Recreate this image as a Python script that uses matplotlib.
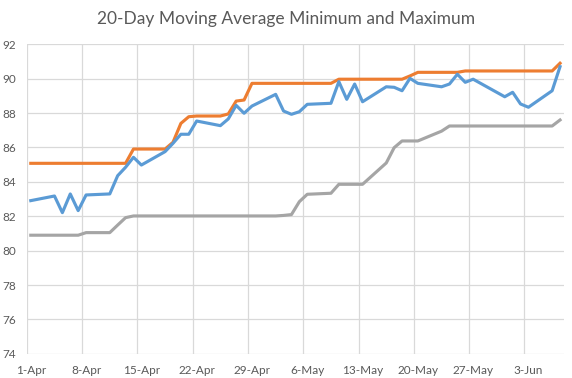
import numpy as np
import pandas as pd
import matplotlib
matplotlib.use('Agg')
import matplotlib.pyplot as plt

# trading days (2016)
dates = ['2016-04-01', '2016-04-04', '2016-04-05', '2016-04-06', '2016-04-07', '2016-04-08',
         '2016-04-11', '2016-04-12', '2016-04-13', '2016-04-14', '2016-04-15',
         '2016-04-18', '2016-04-19', '2016-04-20', '2016-04-21', '2016-04-22',
         '2016-04-25', '2016-04-26', '2016-04-27', '2016-04-28', '2016-04-29',
         '2016-05-02', '2016-05-03', '2016-05-04', '2016-05-05', '2016-05-06',
         '2016-05-09', '2016-05-10', '2016-05-11', '2016-05-12', '2016-05-13',
         '2016-05-16', '2016-05-17', '2016-05-18', '2016-05-19', '2016-05-20',
         '2016-05-23', '2016-05-24', '2016-05-25', '2016-05-26', '2016-05-27',
         '2016-05-31', '2016-06-01', '2016-06-02', '2016-06-03',
         '2016-06-06', '2016-06-07']

precio = [82.91, 83.18, 82.21, 83.30, 82.33, 83.24,
          83.30, 84.36, 84.85, 85.43, 84.98,
          85.76, 86.24, 86.77, 86.77, 87.54,
          87.27, 87.66, 88.45, 87.99, 88.41,
          89.09, 88.12, 87.93, 88.08, 88.51,
          88.57, 89.83, 88.80, 89.69, 88.66,
          89.53, 89.50, 89.30, 90.02, 89.73,
          89.53, 89.69, 90.26, 89.79, 89.97,
          88.95, 89.21, 88.53, 88.34,
          89.30, 90.70]

maximo = [85.08, 85.08, 85.08, 85.08, 85.08, 85.08,
          85.08, 85.08, 85.08, 85.91, 85.91,
          85.91, 86.30, 87.40, 87.79, 87.83,
          87.83, 87.95, 88.70, 88.76, 89.73,
          89.73, 89.73, 89.73, 89.73, 89.73,
          89.73, 89.97, 89.97, 89.97, 89.97,
          89.97, 89.97, 89.97, 90.16, 90.37,
          90.37, 90.37, 90.37, 90.45, 90.45,
          90.45, 90.45, 90.45, 90.45,
          90.45, 90.90]

minimo = [80.90, 80.90, 80.90, 80.90, 80.90, 81.05,
          81.05, 81.49, 81.92, 82.02, 82.02,
          82.02, 82.02, 82.02, 82.02, 82.02,
          82.02, 82.02, 82.02, 82.02, 82.02,
          82.02, 82.05, 82.10, 82.85, 83.28,
          83.34, 83.86, 83.86, 83.86, 83.86,
          85.10, 85.99, 86.38, 86.38, 86.38,
          86.95, 87.25, 87.25, 87.25, 87.25,
          87.25, 87.25, 87.25, 87.25,
          87.25, 87.60]

etiquetas = ['1-Apr', '8-Apr', '15-Apr', '22-Apr', '29-Apr', '6-May',
             '13-May', '20-May', '27-May', '3-Jun']

plt.rcParams['font.family'] = ['Lato', 'DejaVu Sans']

fechas = pd.to_datetime(dates)
inicio = pd.Timestamp('2016-04-01')
x = np.array((fechas - inicio).days)  # dias desde 1-Apr

fig = plt.figure(figsize=(5.72, 3.78), dpi=100)
ax = fig.add_axes([0.0469, 0.0638, 0.986 - 0.0469, 0.8828 - 0.0638])

gris_txt = '#595959'
ax.plot(x, minimo, color='#A5A5A5', lw=2.25, solid_joinstyle='round', zorder=3)
ax.plot(x, maximo, color='#ED7D31', lw=2.25, solid_joinstyle='round', zorder=4)
ax.plot(x, precio, color='#5B9BD5', lw=2.25, solid_joinstyle='round', zorder=5)

ax.set_xlim(-0.5, x[-1] + 0.5)
ax.set_ylim(74, 92)
ax.set_yticks(np.arange(74, 93, 2))

pos = np.arange(len(etiquetas)) * 7
ax.set_xticks(pos)
ax.set_xticklabels(etiquetas)
ax.set_xticks(pos - 0.5, minor=True)

ax.grid(True, which='minor', axis='x', color='#D9D9D9', lw=0.9)
ax.grid(True, which='major', axis='y', color='#D9D9D9', lw=0.9)
ax.set_axisbelow(True)
for s in ax.spines.values():
    s.set_visible(False)
ax.tick_params(which='both', length=0, labelsize=8.5, labelcolor=gris_txt)
ax.tick_params(axis='x', pad=8)
ax.tick_params(axis='y', pad=8)

fig.text(0.5, 0.951, '20-Day Moving Average Minimum and Maximum',
         ha='center', va='center', fontsize=12.5, color=gris_txt)

fig.savefig('out.png', dpi=100)
